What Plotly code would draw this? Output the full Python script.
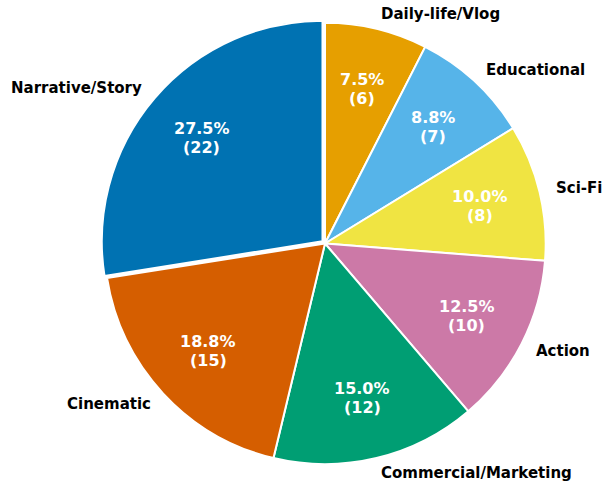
import math
import plotly.graph_objects as go

# genre counts, clockwise from the top
genres = ["Daily-life/Vlog", "Educational", "Sci-Fi", "Action",
          "Commercial/Marketing", "Cinematic", "Narrative/Story"]
counts = [6, 7, 8, 10, 12, 15, 22]
colors = ["#E69F00", "#56B4E9", "#F0E442", "#CC79A7",
          "#009E73", "#D55E00", "#0072B2"]
pulls = [0, 0, 0, 0, 0, 0, 0.015]

font = "DejaVu Sans"

W, H = 609, 484
margin = dict(l=101, r=60, t=19, b=16)
plot_w = W - margin["l"] - margin["r"]
plot_h = H - margin["t"] - margin["b"]
radius = min(plot_w, plot_h) / 2 / (1 + max(pulls))

fig = go.Figure()

fig.add_trace(go.Pie(
    labels=genres, values=counts, sort=False, direction="clockwise",
    rotation=0, pull=pulls,
    marker=dict(colors=colors, line=dict(color="white", width=2)),
    textinfo="none",
    hovertemplate="%{label}: %{value} (%{percent:.1%})<extra></extra>",
    showlegend=False,
))

# labels like matplotlib: percentages at 0.72r, names just outside the rim
total = sum(counts)
cum = 0
for name, c, p in zip(genres, counts, pulls):
    mid = (cum + c / 2) / total
    cum += c
    ang = math.radians(90 - 360 * mid)
    cx, cy = math.cos(ang), math.sin(ang)

    def to_paper(d):
        dist = (d + p) * radius
        return 0.5 + dist * cx / plot_w, 0.5 + dist * cy / plot_h

    px, py = to_paper(0.72)
    for txt, shift in [(f"{100 * c / total:.1f}%", 9.5), (f"({c})", -9.5)]:
        fig.add_annotation(
            x=px, y=py, xref="paper", yref="paper", showarrow=False,
            text=f"<b>{txt}</b>", yshift=shift, borderpad=0,
            font=dict(family=font, size=16, color="white"),
            xanchor="center", yanchor="middle",
        )
    lx, ly = to_paper(1.07)
    fig.add_annotation(
        x=lx, y=ly, xref="paper", yref="paper", showarrow=False,
        text=f"<b>{name}</b>", borderpad=0,
        font=dict(family=font, size=15, color="black"),
        xanchor="left" if cx >= 0 else "right", yanchor="middle",
    )

fig.update_layout(
    width=W, height=H,
    margin=dict(**margin, autoexpand=False),
    paper_bgcolor="white", plot_bgcolor="white",
)

# drop the default 8px body margin so the figure fills the window
fig.write_html("out.html", config={"displayModeBar": False},
               post_script="document.body.style.margin='0';"
                           "document.body.style.overflow='hidden';")
